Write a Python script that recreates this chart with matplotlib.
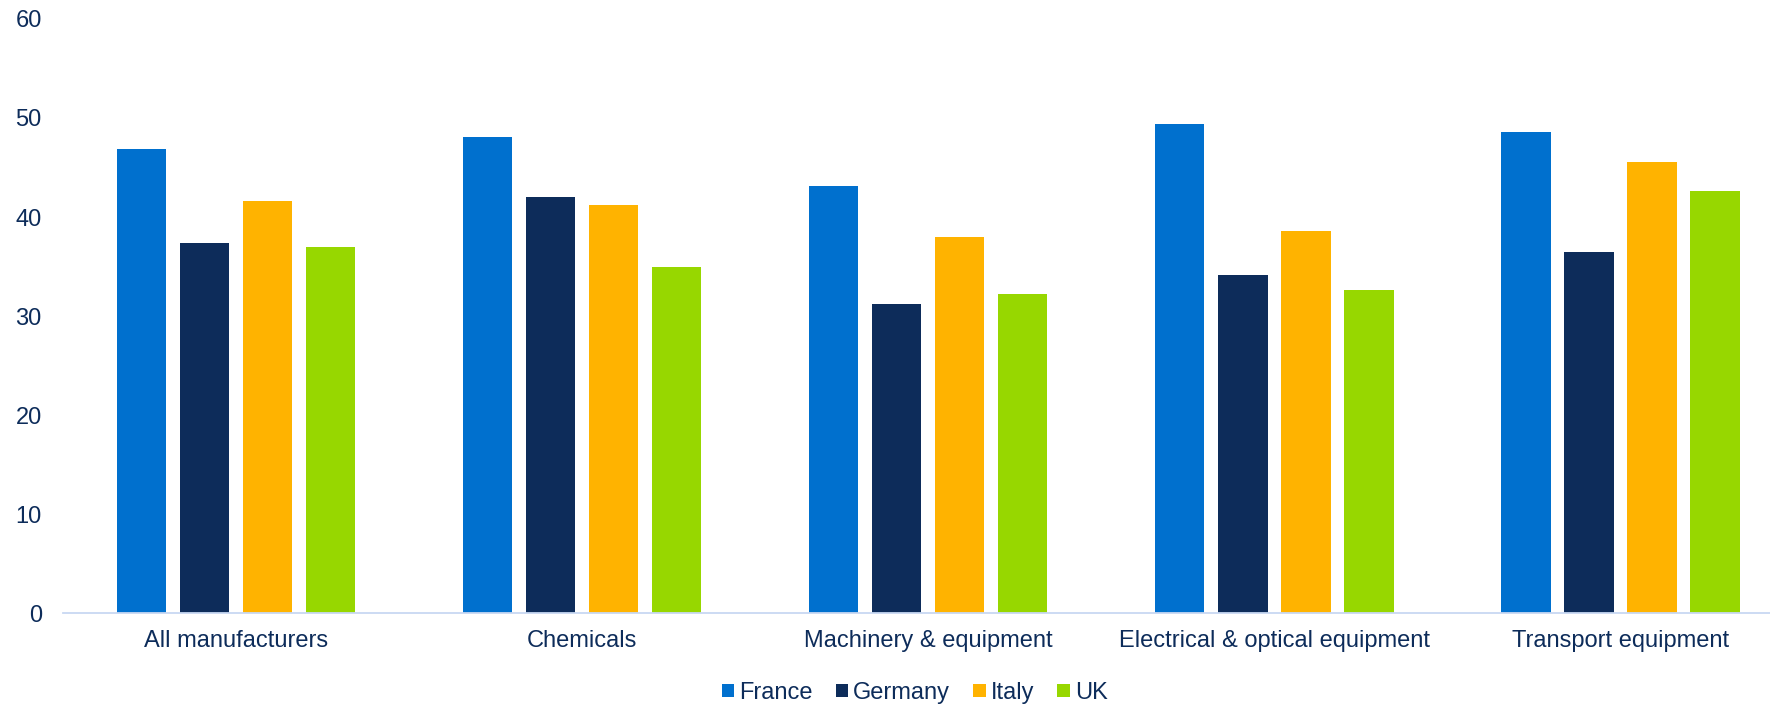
import numpy as np
import matplotlib
matplotlib.use("Agg")
import matplotlib.pyplot as plt

sectors = ["All manufacturers", "Chemicals", "Machinery & equipment",
           "Electrical & optical equipment", "Transport equipment"]
countries = ["France", "Germany", "Italy", "UK"]

france = [46.9, 48.1, 43.1, 49.4, 48.6]
germany = [37.4, 42.0, 31.2, 34.2, 36.5]
italy = [41.6, 41.2, 38.0, 38.6, 45.6]
uk = [37.0, 35.0, 32.2, 32.6, 42.6]

colors = ["#0070CE", "#0D2C5A", "#FFB300", "#97D700"]
text_color = "#0D2C5A"
axis_color = "#C8D8F2"

plt.rcParams["font.family"] = ["Liberation Sans", "DejaVu Sans"]

fig = plt.figure(figsize=(17.7, 7.06), dpi=100)
# the plot area runs slightly past the right edge of the canvas
ax = fig.add_axes([0.03537, 0.1313, 0.978, 0.8419])

x = np.arange(len(sectors))
step = 0.182
width = 0.1425
series = [france, germany, italy, uk]
for i, (vals, name, col) in enumerate(zip(series, countries, colors)):
    ax.bar(x + (i - 1.5) * step, vals, width, color=col, label=name,
           linewidth=0)

ax.set_xlim(-0.5, len(sectors) - 0.5)
ax.set_ylim(0, 60)
ax.set_yticks(range(0, 61, 10))
ax.set_xticks(x)
ax.set_xticklabels(sectors)

for side in ["top", "right", "left"]:
    ax.spines[side].set_visible(False)
ax.spines["bottom"].set_color(axis_color)
ax.spines["bottom"].set_linewidth(1.3)

ax.tick_params(axis="x", length=0, pad=12, labelsize=17, colors=text_color)
ax.tick_params(axis="y", length=0, pad=15, labelsize=17, colors=text_color)

fig.legend(loc="center", bbox_to_anchor=(0.5167, 0.018), ncol=4,
           frameon=False, fontsize=17, labelcolor=text_color,
           handlelength=0.52, handleheight=0.48, handletextpad=0.22,
           columnspacing=0.98, borderaxespad=0, borderpad=0)

fig.savefig("out.png", dpi=100)
